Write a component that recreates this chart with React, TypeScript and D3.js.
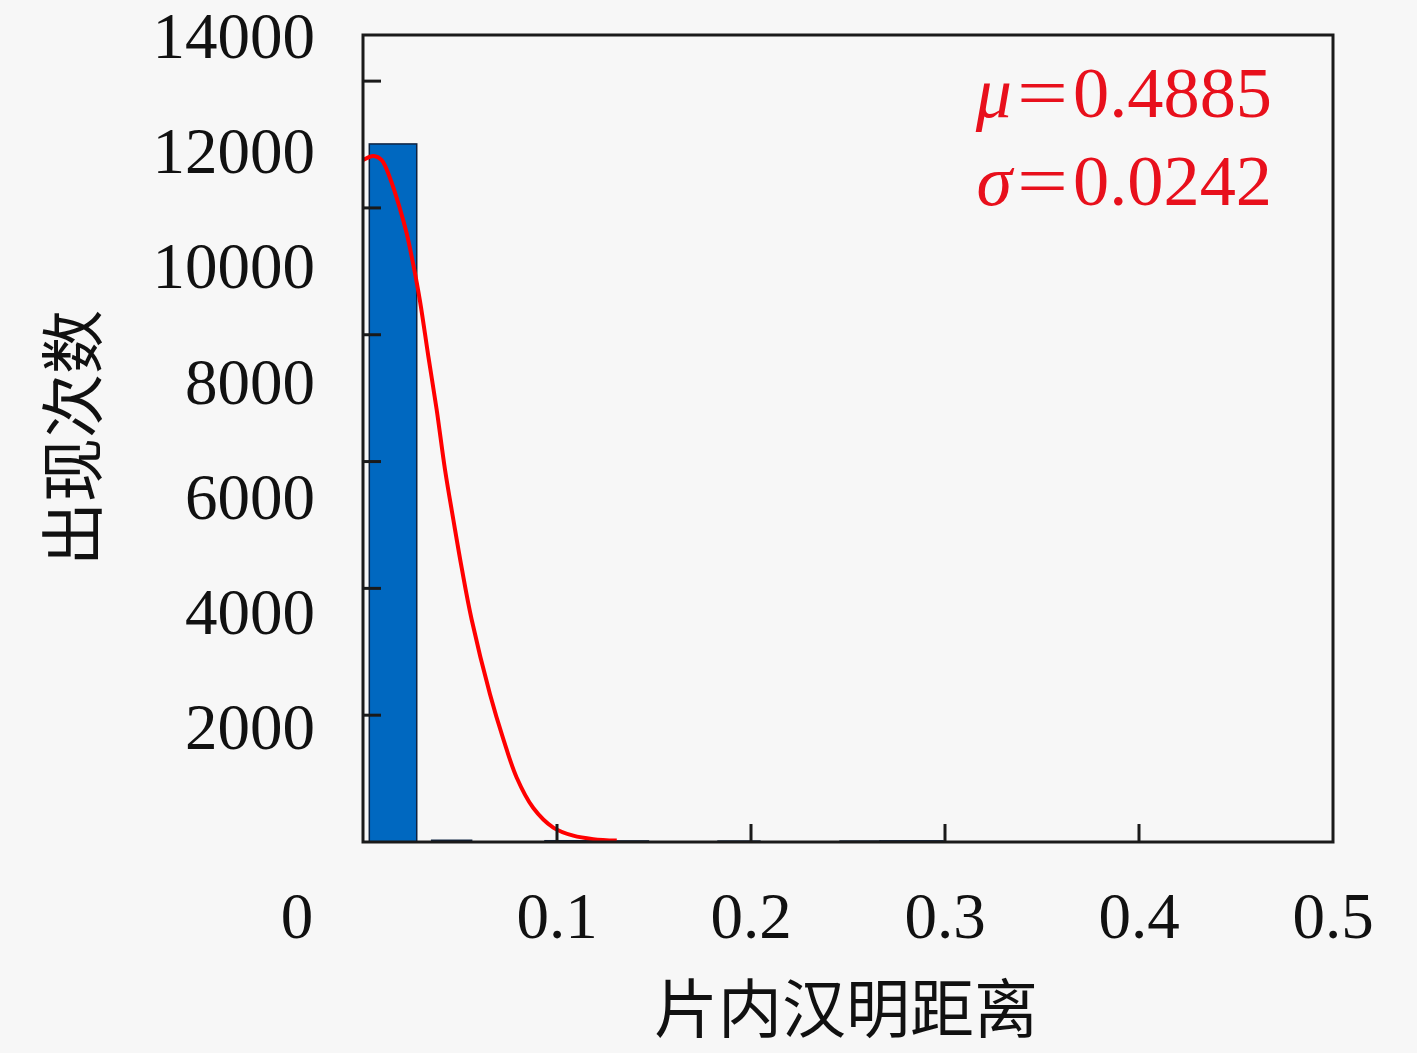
import React from "react";
import * as d3 from "d3";

const W = 1417;
const H = 1053;

// Histogram bins: [start, end] and counts
const binStart = [0.00325, 0.0354, 0.0938, 0.1205, 0.183, 0.2459, 0.2665];
const binEnd = [0.0277, 0.056, 0.1205, 0.1471, 0.2046, 0.2665, 0.299];
const binCount = [12110, 30, 22, 18, 16, 16, 20];

// Fitted curve
const curveX = [0, 0.0055, 0.0096, 0.0139, 0.0191, 0.0225, 0.0259, 0.0294, 0.0337, 0.038, 0.0423, 0.0466, 0.0509, 0.056, 0.0655, 0.0723, 0.0792, 0.0878, 0.0981, 0.1084, 0.1187, 0.1308];
const curveY = [11830, 11900, 11830, 11520, 10980, 10560, 10020, 9380, 8420, 7494, 6453, 5586, 4750, 3860, 2560, 1790, 1120, 590, 250, 110, 50, 25];

const yLabelValues = [2000, 4000, 6000, 8000, 10000, 12000, 14000];
const yTickMarks = [2200, 4400, 6600, 8800, 11000, 13200];
const xLabelValues = [0.1, 0.2, 0.3, 0.4, 0.5];
const xTickMarks = [0.1, 0.2, 0.3, 0.4];
const zeroLabel = "0";
const xTitle = "片内汉明距离";
const yTitle = "出现次数";
const muText = "0.4885";
const sigmaText = "0.0242";

const M = { left: 363, right: 1333, top: 35, bottom: 842 };

export default function App() {
  const x = d3.scaleLinear().domain([0, 0.5]).range([M.left, M.right]);
  const y = d3.scaleLinear().domain([0, 14000]).range([M.bottom, M.top]);
  const line = d3
    .line<number>()
    .x((_, i) => x(curveX[i]))
    .y((d) => y(d))
    .curve(d3.curveCatmullRom.alpha(0.5));
  const serif = "'Liberation Serif', 'DejaVu Serif', serif";
  const cjk = "'Noto Sans CJK SC', sans-serif";
  const red = "#e8101c";
  const stat = (sym: string, val: string, base: number) => (
    <g fill={red} fontFamily={serif} fontSize={72}>
      <text x={1012} y={base} textAnchor="end" fontStyle="italic">
        {sym}
      </text>
      <text x={1017} y={base} textLength={51} lengthAdjust="spacingAndGlyphs">
        =
      </text>
      <text x={1073} y={base} textLength={199} lengthAdjust="spacingAndGlyphs">
        {val}
      </text>
    </g>
  );
  return (
    <div style={{ position: "absolute", left: 0, top: 0 }}>
      <svg width={W} height={H} style={{ display: "block", background: "#f7f7f7" }}>
        <rect x={0} y={0} width={W} height={H} fill="#f7f7f7" />
        {binCount.map((c, i) => (
          <rect
            key={i}
            x={x(binStart[i])}
            y={y(c)}
            width={x(binEnd[i]) - x(binStart[i])}
            height={y(0) - y(c)}
            fill="#0068c0"
            stroke="#0d2240"
            strokeWidth={1.5}
          />
        ))}
        <path d={line(curveY) || ""} fill="none" stroke="#ff0000" strokeWidth={4} strokeLinejoin="round" />
        {/* axes box */}
        <rect
          x={M.left}
          y={M.top}
          width={M.right - M.left}
          height={M.bottom - M.top}
          fill="none"
          stroke="#1a1a1a"
          strokeWidth={3}
        />
        {yTickMarks.map((v) => (
          <line key={v} x1={M.left} x2={M.left + 18} y1={y(v)} y2={y(v)} stroke="#1a1a1a" strokeWidth={3} />
        ))}
        {xTickMarks.map((v) => (
          <line key={v} x1={x(v)} x2={x(v)} y1={M.bottom} y2={M.bottom - 18} stroke="#1a1a1a" strokeWidth={3} />
        ))}
        {yLabelValues.map((v) => (
          <text
            key={v}
            x={315}
            y={y(v)}
            dy="0.35em"
            textAnchor="end"
            fontFamily={serif}
            fontSize={65}
            fill="#111"
          >
            {v}
          </text>
        ))}
        {xLabelValues.map((v) => (
          <text
            key={v}
            x={x(v)}
            y={915}
            dy="0.35em"
            textAnchor="middle"
            fontFamily={serif}
            fontSize={65}
            fill="#111"
          >
            {v}
          </text>
        ))}
        <text x={x(0) - 66} y={915} dy="0.35em" textAnchor="middle" fontFamily={serif} fontSize={65} fill="#111">
          {zeroLabel}
        </text>
        <text x={846} y={1010} dy="0.35em" textAnchor="middle" fontFamily={cjk} fontSize={64} fill="#111">
          {xTitle}
        </text>
        <text
          transform={`translate(74,438) rotate(-90)`}
          dy="0.35em"
          textAnchor="middle"
          fontFamily={cjk}
          fontSize={64}
          fill="#111"
        >
          {yTitle}
        </text>
        {stat("μ", muText, 117)}
        {stat("σ", sigmaText, 205)}
      </svg>
    </div>
  );
}
